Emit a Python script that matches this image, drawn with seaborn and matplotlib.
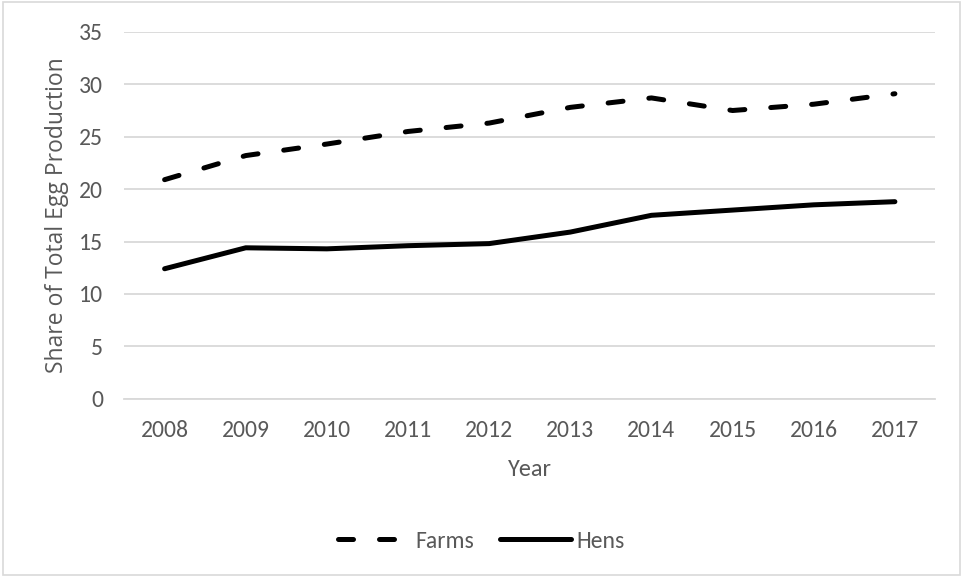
import matplotlib
matplotlib.use("Agg")
import matplotlib.pyplot as plt
from matplotlib.patches import Rectangle
import seaborn as sns
import pandas as pd

years = [2008, 2009, 2010, 2011, 2012, 2013, 2014, 2015, 2016, 2017]
farms = [20.9, 23.2, 24.3, 25.5, 26.3, 27.8, 28.7, 27.5, 28.1, 29.1]
hens = [12.4, 14.4, 14.3, 14.6, 14.8, 15.9, 17.5, 18.0, 18.5, 18.8]
series_names = ["Farms", "Hens"]
y_ticks = [0, 5, 10, 15, 20, 25, 30, 35]

df = pd.DataFrame({
    "Year": [str(y) for y in years] * 2,
    "Share": farms + hens,
    "Series": [series_names[0]] * len(years) + [series_names[1]] * len(years),
})

sns.set_theme(style="white")
plt.rcParams["font.family"] = ["Carlito", "Lato", "DejaVu Sans"]

text_color = "#595959"
grid_color = "#D9D9D9"

fig = plt.figure(figsize=(9.63, 5.77), dpi=100)
ax = fig.add_axes([0.1288, 0.309, 0.8426, 0.6357])

sns.lineplot(
    data=df, x="Year", y="Share", style="Series", ax=ax,
    color="black", linewidth=3.6, sort=False,
    dashes={"Farms": (3, 5.2), "Hens": ""},
    legend=True,
)
for line in ax.get_lines():
    line.set_dash_capstyle("round")
    line.set_solid_capstyle("round")
    line.set_solid_joinstyle("round")
    line.set_dash_joinstyle("round")

ax.set_xlim(-0.5, len(years) - 0.5)
ax.set_ylim(0, 35)
ax.set_yticks(y_ticks)
ax.yaxis.grid(True, color=grid_color, linewidth=1.3)
ax.xaxis.grid(False)
ax.set_axisbelow(True)
for side in ["top", "right", "left"]:
    ax.spines[side].set_visible(False)
ax.spines["bottom"].set_color(grid_color)
ax.spines["bottom"].set_linewidth(1.3)
ax.tick_params(axis="both", colors=text_color, labelsize=17, length=0)
ax.tick_params(axis="y", pad=15)
ax.tick_params(axis="x", pad=15)

ax.set_xlabel("Year", fontsize=17.5, color=text_color, labelpad=13)
ax.set_ylabel("Share of Total Egg Production", fontsize=16.5, color=text_color,
              labelpad=7, family=["Open Sans", "DejaVu Sans"])

handles, labels = ax.get_legend_handles_labels()
ax.legend(handles, labels, loc="center", bbox_to_anchor=(0.5, 36 / 577),
          bbox_transform=fig.transFigure, ncol=2, frameon=False,
          fontsize=17, labelcolor=text_color, handlelength=3.0,
          handletextpad=0.25, columnspacing=1.1)

fig.patches.append(Rectangle((0.003, 0.003), 0.994, 0.993, transform=fig.transFigure,
                             fill=False, edgecolor=grid_color, linewidth=1.2))

fig.savefig("out.png", dpi=100)
